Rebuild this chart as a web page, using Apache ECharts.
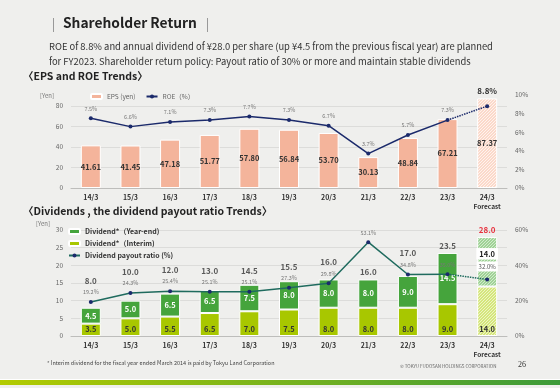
<!DOCTYPE html>
<html><head><meta charset="utf-8">
<script src="https://cdn.jsdelivr.net/npm/echarts@6/dist/echarts.min.js"></script>
<style>html,body{margin:0;padding:0;background:#efefed}#c{width:560px;height:388px}</style>
</head><body><div id="c"></div>
<script>
const categories = ['14/3','15/3','16/3','17/3','18/3','19/3','20/3','21/3','22/3','23/3','24/3'];
const eps = [41.61,41.45,47.18,51.77,57.80,56.84,53.70,30.13,48.84,67.21,87.37];
const roe = [7.5,6.6,7.1,7.3,7.7,7.3,6.7,3.7,5.7,7.3,8.8];
const divInterim = [3.5,5.0,5.5,6.5,7.0,7.5,8.0,8.0,8.0,9.0,14.0];
const divYearEnd = [4.5,5.0,6.5,6.5,7.5,8.0,8.0,8.0,9.0,14.5,14.0];
const payout = [19.2,24.3,25.4,25.1,25.1,27.3,29.8,53.1,34.8,35.0,32.0];
const forecastIdx = 10;

const FONT = '"Noto Sans CJK JP","Noto Sans",sans-serif';
function hatch(bg, fg){
  const c=document.createElement('canvas'); c.width=3; c.height=3;
  const x=c.getContext('2d'); x.fillStyle=bg; x.fillRect(0,0,3,3); x.fillStyle=fg;
  x.fillRect(0,0,1,1); x.fillRect(2,1,1,1); x.fillRect(1,2,1,1);
  return c;
}
const epsHatch = {image: hatch('#fbd9ca','#fff3ee'), repeat:'repeat'};
const yeHatch = {image: hatch('#9fd296','#d2ebcd'), repeat:'repeat'};
const inHatch = {image: hatch('#d5e67c','#eef5c4'), repeat:'repeat'};

const totals = divInterim.map((v,i)=>v+divYearEnd[i]);
const totalLabelPos = totals.map((t,i)=>{
  const p = payout[i]/2;
  return (p < t + 3) ? Math.max(t + 2, p + 6) : t + 2;
});

const chart = echarts.init(document.getElementById('c'), null, {renderer:'canvas'});
const xLabel = {
  interval: 0, fontSize: 7, color:'#333', fontWeight:'bold', fontFamily: FONT, margin: 5, lineHeight: 9,
  formatter: (v,i)=> i===forecastIdx ? v + '\n{f|Forecast}' : v,
  rich: {f:{fontSize:6.5, fontWeight:'bold', color:'#333', fontFamily: FONT}}
};
const yLabel = {fontSize: 6.5, color:'#666', fontFamily: FONT, margin: 8};
const split = {show:true, lineStyle:{color:'#dcdcda', width:1}};

const option = {
  backgroundColor: '#efefed',
  animation: false,
  textStyle: {fontFamily: FONT},
  grid: [
    {left:71, right:53, top:106, bottom:200},
    {left:71, right:53, top:95, bottom:200},
    {left:71, right:53, top:230, bottom:52}
  ],
  legend: [
    {left: 90, top: 93, padding: 0, itemWidth: 11, itemHeight: 5, itemGap: 10,
     textStyle:{fontSize:6.5, color:'#666', fontFamily: FONT},
     data: ['EPS (yen)', 'ROE（%）']},
    {left: 68, top: 228, padding: 0, orient:'vertical', itemWidth: 11, itemHeight: 5, itemGap: 5,
     textStyle:{fontSize:7, color:'#333', fontWeight:'bold', fontFamily: FONT},
     data: ['Dividend*（Year-end)', 'Dividend*（Interim)', 'Dividend payout ratio (%)']}
  ],
  xAxis: [
    {type:'category', gridIndex:0, data:categories, axisTick:{show:false},
     axisLine:{lineStyle:{color:'#bdbdbb'}}, axisLabel: xLabel},
    {type:'category', gridIndex:1, data:categories, show:false},
    {type:'category', gridIndex:2, data:categories, axisTick:{show:false},
     axisLine:{lineStyle:{color:'#bdbdbb'}}, axisLabel: xLabel}
  ],
  yAxis: [
    {type:'value', gridIndex:0, min:0, max:80, interval:20, axisLabel:yLabel, splitLine:split,
     axisLine:{show:false}, axisTick:{show:false}},
    {type:'value', gridIndex:1, position:'right', min:0, max:10, interval:2,
     axisLabel:Object.assign({}, yLabel, {formatter:'{value}%'}), splitLine:{show:false},
     axisLine:{show:false}, axisTick:{show:false}},
    {type:'value', gridIndex:2, min:0, max:30, interval:5, axisLabel:yLabel, splitLine:split,
     axisLine:{show:false}, axisTick:{show:false}},
    {type:'value', gridIndex:2, position:'right', min:0, max:60, interval:20,
     axisLabel:Object.assign({}, yLabel, {formatter:'{value}%'}), splitLine:{show:false},
     axisLine:{show:false}, axisTick:{show:false}}
  ],
  series: [
    {name:'EPS (yen)', type:'bar', xAxisIndex:0, yAxisIndex:0, barWidth:20, clip:false,
     itemStyle:{color:'#f4b49b', borderColor:'#fff', borderWidth:1},
     label:{show:true, position:'inside', fontSize:7.5, fontWeight:'bold', color:'#333',
            formatter: p=> p.value.toFixed(2)},
     data: eps.map((v,i)=> i===forecastIdx ? {value:v, itemStyle:{color:epsHatch}} : v)},
    {name:'ROE（%）', type:'line', xAxisIndex:1, yAxisIndex:1, symbol:'circle', symbolSize:4,
     itemStyle:{color:'#1b2a6b'}, lineStyle:{color:'#1b2a6b', width:1.5},
     label:{show:true, position:'top', distance:5, fontSize:5.5, color:'#777',
            formatter: p=> p.value.toFixed(1)+'%'},
     data: roe.map((v,i)=> i<forecastIdx ? v : '-')},
    {name:'ROE-f', type:'line', xAxisIndex:1, yAxisIndex:1, symbol:'circle', symbolSize:4,
     itemStyle:{color:'#1b2a6b'}, lineStyle:{color:'#1b2a6b', width:1.5, type:[1.5,1]},
     label:{show:false},
     data: roe.map((v,i)=> i===forecastIdx ? {value:v, label:{show:true, position:'top', distance:9,
       fontSize:8, fontWeight:'bold', color:'#333', formatter: p=> p.value.toFixed(1)+'%'}} :
       (i===forecastIdx-1 ? {value:v, symbolSize:0} : '-'))},

    {name:'Dividend*（Interim)', type:'bar', stack:'d', xAxisIndex:2, yAxisIndex:2, barWidth:20,
     itemStyle:{color:'#a8c700', borderColor:'#fff', borderWidth:1},
     label:{show:true, position:'insideBottom', distance:3, fontSize:7.5, fontWeight:'bold', color:'#333',
            formatter: p=> p.value.toFixed(1)},
     data: divInterim.map((v,i)=> i===forecastIdx ? {value:v, itemStyle:{color:inHatch}} : v)},
    {name:'Dividend*（Year-end)', type:'bar', stack:'d', xAxisIndex:2, yAxisIndex:2, barWidth:20,
     itemStyle:{color:'#45a43c', borderColor:'#fff', borderWidth:1},
     label:{show:true, position:'inside', fontSize:7.5, fontWeight:'bold', color:'#fff',
            formatter: p=> p.value.toFixed(1)},
     data: divYearEnd.map((v,i)=> i===forecastIdx ? {value:v, itemStyle:{color:yeHatch},
       label:{position:'insideTop', distance:11, color:'#222', backgroundColor:'#fff', padding:[2,3]}} : v)},
    {name:'totals', type:'scatter', xAxisIndex:2, yAxisIndex:2, symbolSize:1,
     itemStyle:{color:'rgba(0,0,0,0)'},
     label:{show:true, position:'inside', fontSize:8, fontWeight:'bold', color:'#333',
            formatter: p=> totals[p.dataIndex].toFixed(1)},
     data: totalLabelPos.map((v,i)=> i===forecastIdx ? {value:v, label:{color:'#e60012'}} : v)},
    {name:'Dividend payout ratio (%)', type:'line', xAxisIndex:2, yAxisIndex:3, symbol:'circle', symbolSize:4,
     itemStyle:{color:'#1b2a6b'}, lineStyle:{color:'#1f6b5e', width:1.5},
     label:{show:true, position:'top', distance:5, fontSize:5.5, color:'#777',
            formatter: p=> p.value.toFixed(1)+'%'},
     data: payout.map((v,i)=> i<forecastIdx ? v : '-')},
    {name:'payout-f', type:'line', xAxisIndex:2, yAxisIndex:3, symbol:'circle', symbolSize:4,
     itemStyle:{color:'#1b2a6b'}, lineStyle:{color:'#1f6b5e', width:1.5, type:[1.5,1]},
     label:{show:false},
     data: payout.map((v,i)=> i===forecastIdx ? {value:v, label:{show:true, position:'top', distance:6,
       fontSize:6, color:'#555', backgroundColor:'#fff', padding:[2,2], formatter: p=> p.value.toFixed(1)+'%'}} :
       (i===forecastIdx-1 ? {value:v, symbolSize:0} : '-'))}
  ],
  graphic: [
    {type:'line', shape:{x1:53.5,y1:18,x2:53.5,y2:32}, style:{stroke:'#999', lineWidth:1}},
    {type:'text', left:63, top:16, style:{text:'Shareholder Return', font:'bold 13.8px '+FONT, fill:'#222'}},
    {type:'line', shape:{x1:207.5,y1:18,x2:207.5,y2:32}, style:{stroke:'#999', lineWidth:1}},
    {type:'text', left:49, top:42, style:{text:'ROE of 8.8% and annual dividend of ¥28.0 per share (up ¥4.5 from the previous fiscal year) are planned', font:'9.4px '+FONT, fill:'#333'}},
    {type:'text', left:49, top:57, style:{text:'for FY2023. Shareholder return policy: Payout ratio of 30% or more and maintain stable dividends', font:'9.4px '+FONT, fill:'#333'}},
    {type:'text', left:23, top:71, style:{text:'〈EPS and ROE Trends〉', font:'bold 10.5px '+FONT, fill:'#222'}},
    {type:'text', left:40, top:93, style:{text:'[Yen]', font:'6px '+FONT, fill:'#777'}},
    {type:'text', left:23, top:206, style:{text:'〈Dividends , the dividend payout ratio Trends〉', font:'bold 10.5px '+FONT, fill:'#222'}},
    {type:'text', left:36, top:221, style:{text:'[Yen]', font:'6px '+FONT, fill:'#777'}},
    {type:'text', left:47, top:360, style:{text:'* Interim dividend for the fiscal year ended March 2014 is paid by Tokyu Land Corporation', font:'5.5px '+FONT, fill:'#444'}},
    {type:'text', left:400, top:364, style:{text:'© TOKYU FUDOSAN HOLDINGS CORPORATION', font:'4.5px '+FONT, fill:'#666'}},
    {type:'text', left:518, top:361, style:{text:'26', font:'8px serif', fill:'#333'}},
    {type:'rect', shape:{x:0,y:379,width:560,height:1}, style:{fill:'#ffffff'}},
    {type:'rect', shape:{x:0,y:380,width:560,height:5},
     style:{fill:new echarts.graphic.LinearGradient(0,0,1,0,[{offset:0,color:'#b3cb00'},{offset:1,color:'#3d9b3a'}])}}
  ]
};
chart.setOption(option);
</script></body></html>
